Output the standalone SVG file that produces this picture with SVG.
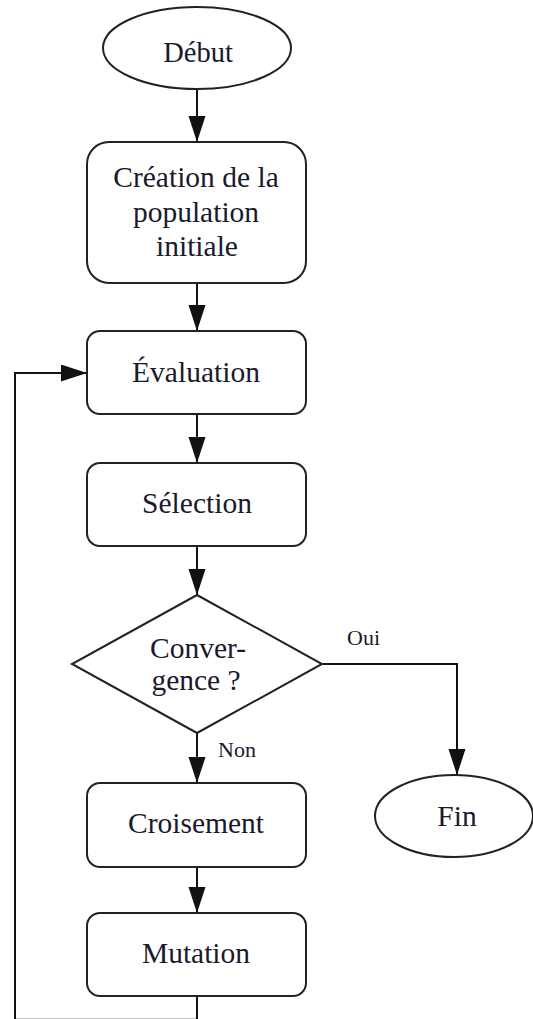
<svg xmlns="http://www.w3.org/2000/svg" width="533" height="1019" viewBox="0 0 533 1019">
<style>
.shape{fill:#fff;stroke:#222;stroke-width:2}
.t{font-size:29.5px;fill:#1a1a2e;text-anchor:middle}
.lbl{font-size:22px;fill:#1a1a2e}
.c{fill:none;stroke:#111;stroke-width:2}
</style>
<defs>
<marker id="arr" markerUnits="userSpaceOnUse" markerWidth="27" markerHeight="18" refX="26" refY="8.5" orient="auto">
<path d="M0,0 L26,8.5 L0,17 Z" fill="#111"/>
</marker>
</defs>
<rect width="533" height="1019" fill="#fff"/>
<g font-family="'Liberation Serif', 'DejaVu Serif', serif">
<g id="connectors">
<path class="c" d="M197,89 V142" marker-end="url(#arr)"/>
<path class="c" d="M197,283 V331" marker-end="url(#arr)"/>
<path class="c" d="M197,414 V463" marker-end="url(#arr)"/>
<path class="c" d="M197,546 V595" marker-end="url(#arr)"/>
<path class="c" d="M322,664 H457 V775" marker-end="url(#arr)"/>
<path class="c" d="M197,733 V783" marker-end="url(#arr)"/>
<path class="c" d="M197,867 V913" marker-end="url(#arr)"/>
<path class="c" d="M197,996 V1019.8 H15 V373 H87" marker-end="url(#arr)"/>
<text class="lbl" x="347" y="645">Oui</text>
<text class="lbl" x="218" y="757">Non</text>
</g>
<g id="debut">
<ellipse class="shape" cx="197" cy="48" rx="94" ry="41"/>
<text class="t" x="198" y="62" style="font-size:28.5px">Début</text>
</g>
<g id="creation">
<rect class="shape" x="87" y="142" width="219" height="141" rx="22"/>
<text class="t" x="196" y="187">Création de la</text>
<text class="t" x="196" y="222">population</text>
<text class="t" x="197" y="256">initiale</text>
</g>
<g id="evaluation">
<rect class="shape" x="87" y="331" width="219" height="83" rx="13"/>
<text class="t" x="196" y="382">Évaluation</text>
</g>
<g id="selection">
<rect class="shape" x="87" y="463" width="219" height="83" rx="13"/>
<text class="t" x="197" y="513">Sélection</text>
</g>
<g id="convergence">
<polygon class="shape" points="197,595 322,664 197,733 72,664"/>
<text class="t" x="198" y="658">Conver-</text>
<text class="t" x="196" y="690">gence ?</text>
</g>
<g id="fin">
<ellipse class="shape" cx="454" cy="816" rx="79" ry="41"/>
<text class="t" x="457" y="826">Fin</text>
</g>
<g id="croisement">
<rect class="shape" x="87" y="783" width="219" height="84" rx="13"/>
<text class="t" x="196" y="833">Croisement</text>
</g>
<g id="mutation">
<rect class="shape" x="87" y="913" width="219" height="83" rx="13"/>
<text class="t" x="196" y="963">Mutation</text>
</g>
</g>
</svg>
